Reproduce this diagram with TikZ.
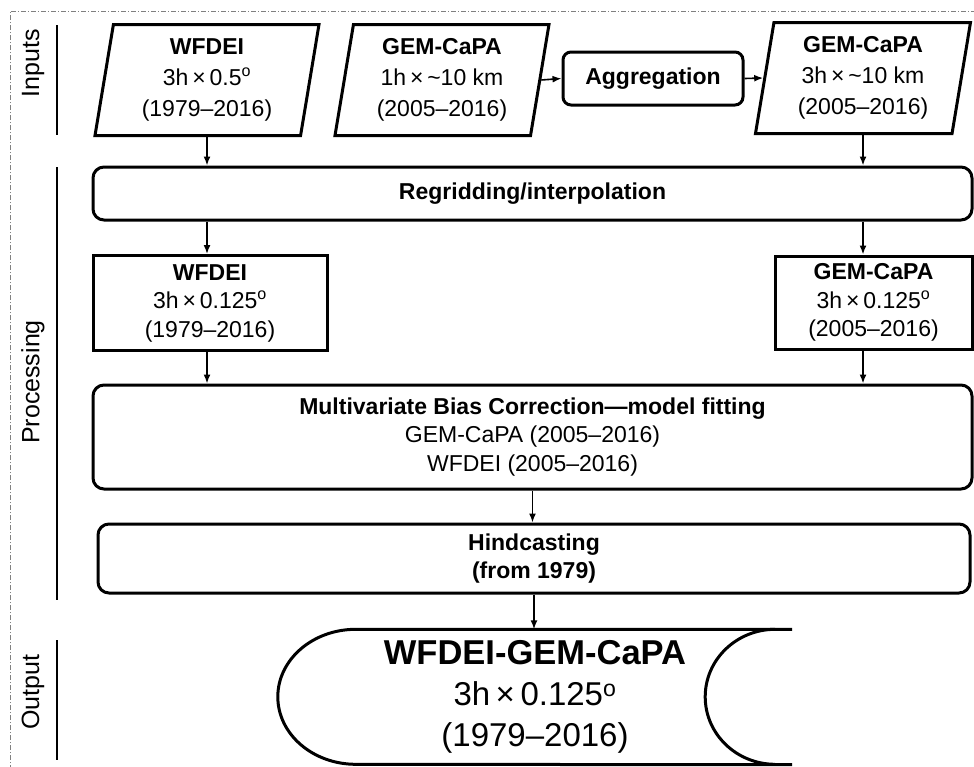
\documentclass[tikz,border=0pt]{standalone}
\usepackage{fontspec}
\setmainfont{Liberation Sans}
\usetikzlibrary{arrows.meta,calc,positioning,shapes.geometric}

\begin{document}
\begin{tikzpicture}[
  x=1pt,y=-1pt,>=Latex,
  boxfont/.style={font=\fontsize{23}{28.5}\selectfont},
  flow/.style={-{Latex[length=9pt,width=7pt]},draw=black,line width=1.6pt},
  datain/.style={trapezium,trapezium left angle=78,trapezium right angle=102,
    trapezium stretches body,draw,line width=3pt,align=center,
    font=\fontsize{23}{31}\selectfont,
    minimum height=111pt,inner sep=2pt},
  procbox/.style={draw,line width=3pt,rounded corners=11pt,align=center,
    boxfont,inner sep=2pt},
  databox/.style={draw,line width=3pt,align=center,boxfont,inner sep=2pt},
  section/.style={rotate=90,font=\fontsize{25}{28}\selectfont},
  sectionline/.style={draw=black,line width=1.6pt},
  frame/.style={draw=gray,line width=0.8pt,
    dash pattern=on 5pt off 2pt on 1pt off 2pt}
]
\useasboundingbox (0,0) rectangle (974,766);

% outer frame and section markers
\draw[frame] (10,790) -- (10,11) -- (990,11);
\node[section] (lblin) at (33,63) {Inputs};
\node[section] (lblproc) at (33,382) {Processing};
\node[section] (lblout) at (33,692) {Output};
\draw[sectionline] (57,25) -- (57,135);
\draw[sectionline] (57,167) -- (57,600);
\draw[sectionline] (57,640) -- (57,760);

% inputs
\node[datain,minimum width=224pt] (wfdeiin) at (207,80)
  {{\bfseries WFDEI}\\3h\,×\,0.5\textsuperscript{o}\\(1979–2016)};
\node[datain,minimum width=214pt] (gemin) at (442,80)
  {{\bfseries GEM-CaPA}\\1h\,×\,\textasciitilde 10 km\\(2005–2016)};
\node[procbox,rounded corners=8pt,minimum width=180pt,minimum height=53pt]
  (agg) at (653,78.5) {\bfseries Aggregation};
\node[datain,minimum width=215pt] (gemagg) at (863,78)
  {{\bfseries GEM-CaPA}\\3h\,×\,\textasciitilde 10 km\\(2005–2016)};

\draw[flow] (gemin.east) -- (agg.west);
\draw[flow] (agg.east) -- (gemagg.west);

% processing
\node[procbox,minimum width=879pt,minimum height=53pt] (regrid) at (532.5,193.5)
  {\bfseries Regridding/interpolation};
\node[databox,minimum width=234pt,minimum height=95pt] (wfdeigrid) at (210,303)
  {{\bfseries WFDEI}\\3h\,×\,0.125\textsuperscript{o}\\(1979–2016)};
\node[databox,minimum width=197pt,minimum height=93pt] (gemgrid) at (873.5,302.5)
  {{\bfseries GEM-CaPA}\\3h\,×\,0.125\textsuperscript{o}\\(2005–2016)};
\node[procbox,minimum width=879pt,minimum height=104pt] (mbc) at (532.5,437)
  {{\bfseries Multivariate Bias Correction—model fitting}\\
   GEM-CaPA (2005–2016)\\WFDEI (2005–2016)};
\node[procbox,minimum width=872pt,minimum height=69pt] (hind) at (534,558.5)
  {{\bfseries Hindcasting}\\{\bfseries (from 1979)}};

\draw[flow] (wfdeiin.south) -- (wfdeiin.south |- regrid.north);
\draw[flow] (gemagg.south) -- (gemagg.south |- regrid.north);
\draw[flow] (wfdeiin.south |- regrid.south) -- (wfdeiin.south |- wfdeigrid.north);
\draw[flow] (gemagg.south |- regrid.south) -- (gemagg.south |- gemgrid.north);
\draw[flow] (wfdeiin.south |- wfdeigrid.south) -- (wfdeiin.south |- mbc.north);
\draw[flow] (gemagg.south |- gemgrid.south) -- (gemagg.south |- mbc.north);
\draw[flow] (mbc.south) -- (mbc.south |- hind.north);

% output (stored data shape)
\node[align=center,minimum width=514pt,minimum height=135pt,inner sep=0pt,
  font=\fontsize{33}{41}\selectfont] (out) at (535,697)
  {{\fontsize{34.5}{41}\selectfont\bfseries WFDEI-GEM-CaPA}\\
   3h\,×\,0.125\textsuperscript{o}\\(1979–2016)};
\draw[line width=3pt] (out.north east) -- ([xshift=78pt]out.north west)
  arc[start angle=90,end angle=270,x radius=78pt,y radius=67.5pt]
  -- (out.south east);
\draw[line width=3pt] ([xshift=-17pt]out.north east)
  arc[start angle=90,end angle=270,x radius=70pt,y radius=67.5pt];

\draw[flow] (hind.south) -- (hind.south |- out.north);
\end{tikzpicture}
\end{document}
